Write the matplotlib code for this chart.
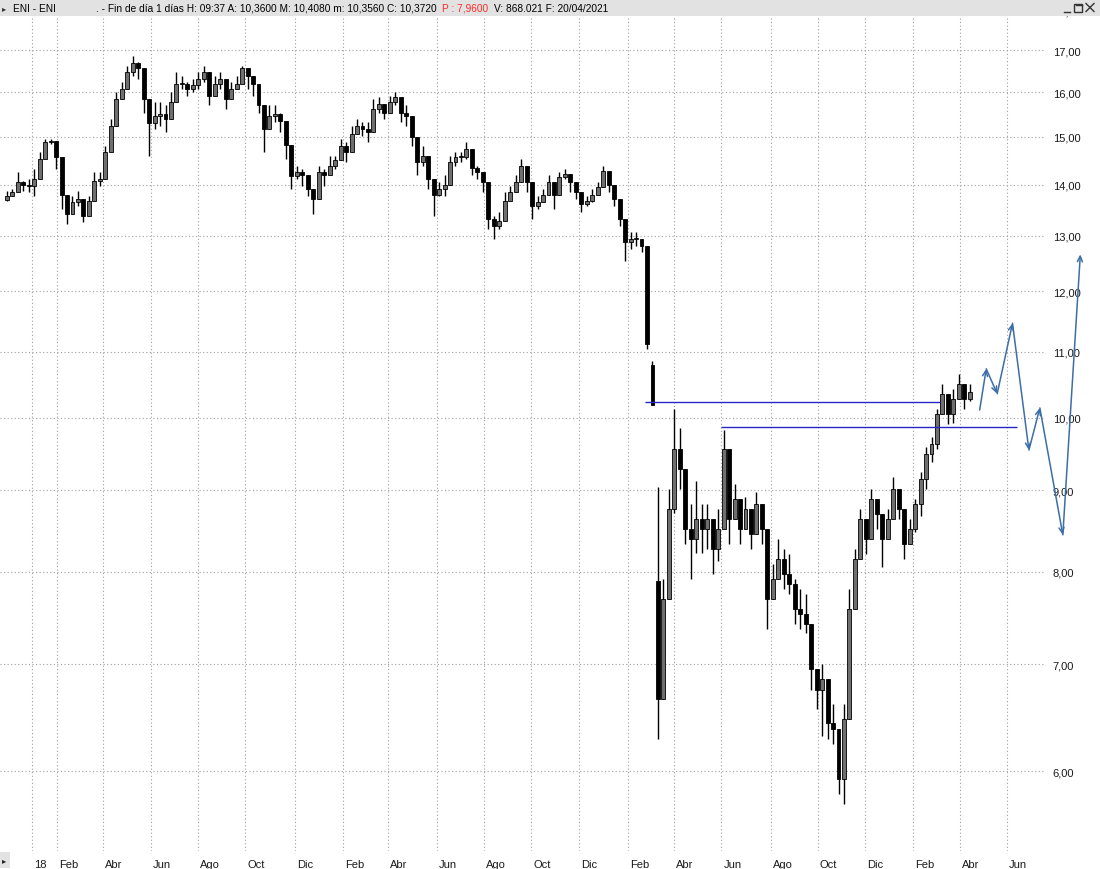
import numpy as np
import pandas as pd
import matplotlib
matplotlib.use('Agg')
import matplotlib.pyplot as plt
import matplotlib.transforms as mtransforms
from matplotlib.patches import Rectangle
from matplotlib.lines import Line2D
from matplotlib.ticker import FixedLocator, FixedFormatter, NullLocator

plt.rcParams['font.family'] = ['Liberation Sans', 'DejaVu Sans']

# ---------------- data (weekly candles) ----------------
start_week = '2017-11-29'
opens = [
    13.70, 13.78, 13.85, 14.05, 14.00, 13.98, 14.12, 14.53, 14.89, 14.92,
    14.57, 13.80, 13.42, 13.65, 13.71, 13.39, 13.68, 14.08, 14.12, 14.67,
    15.24, 15.85, 16.08, 16.48, 16.70, 16.58, 15.85, 15.30, 15.46, 15.50,
    15.39, 15.77, 16.20, 16.20, 16.08, 16.16, 16.31, 16.47, 15.92, 16.20,
    16.31, 15.85, 16.08, 16.20, 16.58, 16.39, 16.20, 15.70, 15.17, 15.46,
    15.50, 15.35, 14.82, 14.18, 14.25, 14.19, 13.91, 13.71, 14.25, 14.19,
    14.39, 14.50, 14.81, 14.67, 15.06, 15.24, 15.17, 15.10, 15.62, 15.74,
    15.54, 15.77, 15.89, 15.54, 15.46, 15.00, 14.46, 14.60, 14.12, 13.80,
    13.91, 14.00, 14.46, 14.57, 14.57, 14.74, 14.35, 14.25, 14.05, 13.32,
    13.19, 13.29, 13.68, 13.85, 14.05, 14.39, 14.05, 13.58, 13.65, 13.80,
    14.05, 13.80, 14.15, 14.22, 14.05, 13.85, 13.62, 13.68, 13.80, 13.95,
    14.28, 14.00, 13.71, 13.32, 12.88, 12.94, 12.94, 12.82, 10.79, 7.90,
    6.66, 7.69, 8.76, 9.55, 9.28, 8.51, 8.39, 8.64, 8.51, 8.64,
    8.27, 8.51, 9.55, 8.64, 8.89, 8.51, 8.76, 8.45, 8.83, 8.51,
    7.69, 7.92, 8.15, 7.98, 7.86, 7.58, 7.53, 7.42, 6.95, 6.75,
    6.85, 6.43, 6.38, 5.93, 6.47, 7.58, 8.15, 8.64, 8.39, 8.89,
    8.70, 8.39, 8.64, 9.02, 8.76, 8.33, 8.51, 8.83, 9.15, 9.48,
    9.62, 10.05, 10.35, 10.05, 10.27, 10.50, 10.27,
]
closes = [
    13.78, 13.85, 14.05, 14.00, 13.98, 14.12, 14.53, 14.89, 14.92, 14.57,
    13.80, 13.42, 13.65, 13.71, 13.39, 13.68, 14.08, 14.12, 14.67, 15.24,
    15.85, 16.08, 16.48, 16.70, 16.58, 15.85, 15.30, 15.46, 15.50, 15.39,
    15.77, 16.20, 16.20, 16.08, 16.16, 16.31, 16.47, 15.92, 16.20, 16.31,
    15.85, 16.08, 16.20, 16.58, 16.39, 16.20, 15.70, 15.17, 15.46, 15.50,
    15.35, 14.82, 14.18, 14.25, 14.19, 13.91, 13.71, 14.25, 14.19, 14.39,
    14.50, 14.81, 14.67, 15.06, 15.24, 15.17, 15.10, 15.62, 15.74, 15.54,
    15.77, 15.89, 15.54, 15.46, 15.00, 14.46, 14.60, 14.12, 13.80, 13.91,
    14.00, 14.46, 14.57, 14.57, 14.74, 14.35, 14.25, 14.05, 13.32, 13.19,
    13.29, 13.68, 13.85, 14.05, 14.39, 14.05, 13.58, 13.65, 13.80, 14.05,
    13.80, 14.15, 14.22, 14.05, 13.85, 13.62, 13.68, 13.80, 13.95, 14.28,
    14.00, 13.71, 13.32, 12.88, 12.94, 12.94, 12.82, 11.12, 10.18, 6.66,
    7.69, 8.76, 9.55, 9.28, 8.51, 8.39, 8.64, 8.51, 8.64, 8.27,
    8.51, 9.55, 8.64, 8.89, 8.51, 8.76, 8.45, 8.83, 8.51, 7.69,
    7.92, 8.15, 7.98, 7.86, 7.58, 7.53, 7.42, 6.95, 6.75, 6.85,
    6.43, 6.38, 5.93, 6.47, 7.58, 8.15, 8.64, 8.39, 8.89, 8.70,
    8.39, 8.64, 9.02, 8.76, 8.33, 8.51, 8.83, 9.15, 9.48, 9.62,
    10.05, 10.35, 10.05, 10.27, 10.50, 10.27, 10.37,
]
highs = [
    13.88, 13.91, 14.25, 14.08, 14.12, 14.32, 14.67, 14.96, 14.96, 14.74,
    14.05, 13.58, 13.78, 13.88, 13.52, 13.78, 14.25, 14.25, 14.81, 15.39,
    16.00, 16.23, 16.63, 16.87, 16.71, 16.16, 15.70, 15.77, 15.77, 15.70,
    16.00, 16.47, 16.39, 16.23, 16.31, 16.47, 16.63, 16.16, 16.39, 16.47,
    16.08, 16.23, 16.39, 16.63, 16.47, 16.39, 15.92, 15.54, 15.70, 15.70,
    15.54, 15.10, 14.39, 14.39, 14.32, 14.12, 13.85, 14.39, 14.32, 14.60,
    14.60, 14.96, 14.89, 15.24, 15.39, 15.32, 15.32, 15.85, 15.89, 15.70,
    15.92, 16.00, 15.85, 15.70, 15.17, 14.67, 14.81, 14.32, 13.98, 14.05,
    14.19, 14.60, 14.67, 14.67, 14.89, 14.53, 14.39, 14.19, 13.52, 13.39,
    13.45, 13.85, 13.98, 14.19, 14.53, 14.19, 13.85, 13.78, 13.91, 14.19,
    13.98, 14.25, 14.32, 14.19, 13.98, 13.78, 13.78, 13.91, 14.05, 14.39,
    14.12, 13.85, 13.45, 13.13, 13.07, 13.07, 12.94, 12.48, 10.85, 9.05,
    7.92, 9.02, 10.12, 9.85, 9.28, 8.83, 9.12, 8.82, 8.83, 8.64,
    8.76, 9.82, 9.28, 9.09, 8.83, 8.92, 8.70, 8.98, 8.76, 8.39,
    8.09, 8.39, 8.27, 8.21, 7.92, 7.80, 7.75, 7.29, 6.95, 7.00,
    6.66, 6.61, 6.28, 6.61, 7.80, 8.27, 8.76, 8.64, 9.02, 8.89,
    8.70, 8.76, 9.17, 9.02, 8.64, 8.64, 8.89, 9.24, 9.59, 9.72,
    10.12, 10.50, 10.35, 10.42, 10.65, 10.50, 10.50,
]
lows = [
    13.68, 13.78, 13.95, 13.88, 13.85, 13.78, 14.43, 14.81, 14.85, 14.32,
    13.52, 13.23, 13.52, 13.58, 13.26, 13.58, 13.91, 13.98, 14.53, 15.10,
    15.70, 15.92, 16.23, 16.39, 16.31, 15.54, 14.60, 15.17, 15.24, 15.10,
    15.39, 16.00, 16.08, 15.92, 16.00, 16.08, 16.23, 15.70, 15.92, 16.08,
    15.62, 15.92, 16.08, 16.31, 16.08, 15.92, 15.54, 14.67, 15.24, 15.32,
    15.10, 14.53, 13.91, 14.12, 13.98, 13.78, 13.42, 14.12, 13.98, 14.19,
    14.32, 14.60, 14.46, 14.81, 15.10, 15.03, 14.89, 15.39, 15.54, 15.39,
    15.62, 15.70, 15.32, 15.24, 14.81, 14.19, 14.39, 13.91, 13.39, 13.78,
    13.78, 14.32, 14.39, 14.46, 14.53, 14.19, 14.12, 13.85, 13.13, 12.94,
    13.13, 13.52, 13.71, 13.91, 14.19, 13.85, 13.32, 13.52, 13.65, 13.85,
    13.52, 14.05, 14.12, 13.85, 13.71, 13.45, 13.58, 13.65, 13.85, 14.12,
    13.85, 13.58, 13.19, 12.54, 12.76, 12.82, 12.70, 11.04, 10.18, 6.28,
    6.66, 7.80, 8.71, 9.02, 8.33, 7.92, 8.22, 8.22, 8.27, 7.98,
    8.13, 8.76, 8.33, 8.70, 8.33, 8.51, 8.27, 8.64, 8.33, 7.37,
    7.69, 7.98, 7.80, 7.75, 7.42, 7.37, 7.32, 6.75, 6.56, 6.31,
    6.28, 6.24, 5.80, 5.72, 6.47, 7.58, 8.15, 8.21, 8.64, 8.51,
    8.06, 8.39, 8.83, 8.64, 8.15, 8.33, 8.48, 8.67, 9.02, 9.38,
    9.55, 10.09, 9.90, 9.92, 10.27, 10.12, 10.24,
]

# horizontal support / resistance lines
hline_starts = ['2020-02-24', '2020-06-01']
hline_ends = ['2021-03-08', '2021-06-14']
hline_values = [10.22, 9.86]

# projected path (blue arrows)
proj_dates = ['2021-04-27', '2021-05-05', '2021-05-19', '2021-06-08',
              '2021-06-29', '2021-07-13', '2021-08-11', '2021-09-02']
proj_values = [10.11, 10.73, 10.35, 11.46, 9.54, 10.14, 8.44, 12.66]

# axes ticks
y_ticks = [6, 7, 8, 9, 10, 11, 12, 13, 14, 15, 16, 17, 18]
y_labels = ['6,00', '7,00', '8,00', '9,00', '10,00', '11,00', '12,00',
            '13,00', '14,00', '15,00', '16,00', '17,00', '18,00']
month_ticks = ['2018-01-01', '2018-02-01', '2018-04-01', '2018-06-01', '2018-08-01',
               '2018-10-01', '2018-12-01', '2019-02-01', '2019-04-01', '2019-06-01',
               '2019-08-01', '2019-10-01', '2019-12-01', '2020-02-01', '2020-04-01',
               '2020-06-01', '2020-08-01', '2020-10-01', '2020-12-01', '2021-02-01',
               '2021-04-01', '2021-06-01']
month_labels = ['18', 'Feb', 'Abr', 'Jun', 'Ago', 'Oct', 'Dic', 'Feb', 'Abr', 'Jun',
                'Ago', 'Oct', 'Dic', 'Feb', 'Abr', 'Jun', 'Ago', 'Oct', 'Dic', 'Feb',
                'Abr', 'Jun']

header_name = 'ENI - ENI'
header_info = '. - Fin de día 1 días H: 09:37 A: 10,3600 M: 10,4080 m: 10,3560 C: 10,3720'
header_red = 'P : 7,9600'
header_tail = 'V: 868.021 F: 20/04/2021'

# ---------------- helpers ----------------
ORIGIN = '2017-12-01'


def bday(dates):
    d = np.asarray(pd.to_datetime(dates).values.astype('datetime64[D]'))
    return np.busday_count(np.datetime64(ORIGIN), d).astype(float)


W, H = 1100, 870
fig = plt.figure(figsize=(W / 100, H / 100), dpi=100)
fig.patch.set_facecolor('white')
pix = mtransforms.Affine2D().scale(1 / W, -1 / H).translate(0, 1) + fig.transFigure

ax = fig.add_axes([0, 18 / H, 1045 / W, 852 / H])
ax.set_facecolor('white')
ax.set_yscale('log')
ax.set_xlim(-8.24, 946.7)
ax.set_ylim(5.345, 18.31)
for s in ax.spines.values():
    s.set_visible(False)

# grid
ax.yaxis.set_major_locator(FixedLocator(y_ticks))
ax.yaxis.set_major_formatter(FixedFormatter(y_labels))
ax.yaxis.set_minor_locator(NullLocator())
ax.yaxis.tick_right()
ax.tick_params(axis='y', which='both', length=0, pad=5.5, labelsize=8,
               labelcolor='#1a1a1a', labelright=True, labelleft=False)
mx = bday(month_ticks)
ax.set_xticks(mx)
ax.tick_params(axis='x', length=0, labelbottom=False)
ax.grid(True, which='major', linestyle=(0, (1, 2.2)), color='#a0a0a0', linewidth=0.8)
ax.set_axisbelow(True)

for xv, lab in zip(mx, month_labels):
    ax.annotate(lab, xy=(xv, 0), xycoords=('data', 'axes fraction'),
                xytext=(2, -13), textcoords='offset pixels', ha='left', va='center',
                fontsize=8, color='#1a1a1a', annotation_clip=False)

# candles
wx = bday(pd.date_range(start_week, periods=len(closes), freq='7D'))
c = np.array(closes)
o = np.array(opens)
hi = np.maximum(np.array(highs), np.maximum(o, c))
lo = np.minimum(np.array(lows), np.minimum(o, c))
ax.vlines(wx, lo, hi, color='black', linewidth=1.0, zorder=3)
up = c >= o
body_bot = np.minimum(o, c)
body_h = np.maximum(np.abs(c - o), 0.02)
ax.bar(wx[~up], body_h[~up], bottom=body_bot[~up], width=3.6, color='black',
       edgecolor='black', linewidth=0.6, zorder=4)
ax.bar(wx[up], body_h[up], bottom=body_bot[up], width=3.6, color='#6f6f6f',
       edgecolor='black', linewidth=0.6, zorder=4)

# horizontal lines
ax.hlines(hline_values, bday(hline_starts), bday(hline_ends), colors='#2626c4',
          linewidth=1.0, zorder=5)

# projected arrows
px = bday(proj_dates)
for i in range(len(px) - 1):
    ax.annotate('', xy=(px[i + 1], proj_values[i + 1]), xytext=(px[i], proj_values[i]),
                arrowprops=dict(arrowstyle='->,head_length=0.4,head_width=0.18',
                                color='#3c6ea8', lw=1.1, shrinkA=0, shrinkB=0),
                annotation_clip=False, zorder=6)

# header bar
fs_head = 7.3
fig.add_artist(Rectangle((0, 0), W, 17, transform=pix, facecolor='#e2e2e2',
                         edgecolor='none', zorder=20))
fig.text(2 / W, 1 - 8.5 / H, '▸', fontsize=6, va='center', ha='left', color='#333333',
         family='DejaVu Sans', zorder=21)
fig.text(13 / W, 1 - 8.5 / H, header_name, fontsize=fs_head, va='center', ha='left', zorder=21)
fig.text(96.5 / W, 1 - 8.5 / H, header_info, fontsize=fs_head, va='center', ha='left', zorder=21)
fig.text(441.5 / W, 1 - 8.5 / H, header_red, fontsize=fs_head, va='center', ha='left',
         color='#ff2a2a', zorder=21)
fig.text(493.5 / W, 1 - 8.5 / H, header_tail, fontsize=fs_head, va='center', ha='left', zorder=21)
# window buttons
btn = dict(transform=pix, color='#333333', linewidth=1.0, zorder=21)
fig.add_artist(Line2D([1064, 1070], [12.5, 12.5], **btn))
fig.add_artist(Rectangle((1073.5, 4.5), 8, 8, transform=pix, facecolor='none',
                         edgecolor='#333333', linewidth=1.0, zorder=21))
fig.add_artist(Line2D([1075.5, 1081.5], [5.5, 5.5], **btn))
fig.add_artist(Line2D([1086, 1094], [4.5, 12.5], **btn))
fig.add_artist(Line2D([1086, 1094], [12.5, 4.5], **btn))

# bottom-left scroll button
fig.add_artist(Rectangle((0, 853), 10, 16, transform=pix, facecolor='#e2e2e2',
                         edgecolor='none', zorder=20))
fig.text(1.5 / W, 1 - 861 / H, '▸', fontsize=6, va='center', ha='left', color='#222222',
         family='DejaVu Sans', zorder=21)

fig.savefig('out.png', dpi=100, facecolor='white')
